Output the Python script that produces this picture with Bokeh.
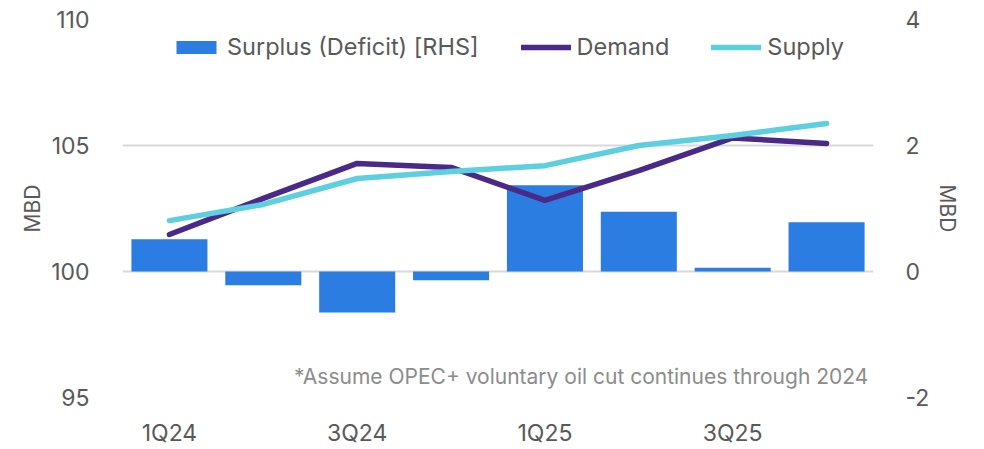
from bokeh.plotting import figure
from bokeh.models import Range1d, LinearAxis, FixedTicker, Label, Legend, LegendItem, ColumnDataSource
from bokeh.embed import file_html
from bokeh.resources import INLINE

quarters = ["1Q24", "2Q24", "3Q24", "4Q24", "1Q25", "2Q25", "3Q25", "4Q25"]
surplus = [0.51, -0.22, -0.65, -0.14, 1.37, 0.95, 0.06, 0.78]
demand = [101.47, 102.9, 104.29, 104.13, 102.82, 104.0, 105.3, 105.08]
supply = [102.02, 102.66, 103.69, 103.97, 104.2, 105.0, 105.4, 105.87]
left_ticks = [95, 100, 105, 110]
right_ticks = [-2, 0, 2, 4]
shown_labels = ["1Q24", "3Q24", "1Q25", "3Q25"]
footnote = "*Assume OPEC+ voluntary oil cut continues through 2024"

FONT = "Inter"
TXT = "#595959"
BAR = "#2B7DE1"
DEM = "#4A2A88"
SUP = "#5DCFDF"

xs = list(range(len(quarters)))
src = ColumnDataSource(dict(x=xs, q=quarters, surplus=surplus, demand=demand, supply=supply))

p = figure(width=984, height=449, output_backend="svg", toolbar_location=None,
           x_range=Range1d(-0.5, len(quarters) - 0.5), y_range=Range1d(95, 110),
           min_border_left=122, min_border_right=111, min_border_top=19, min_border_bottom=52)
p.outline_line_color = None
p.background_fill_color = "white"
p.border_fill_color = "white"
p.extra_y_ranges = {"rhs": Range1d(-2, 4)}

bars = p.vbar(x="x", top="surplus", bottom=0, width=0.81, y_range_name="rhs",
              fill_color=BAR, line_color=None, source=src)
l_dem = p.line(x="x", y="demand", line_color=DEM, line_width=5.5, line_cap="round",
               line_join="round", source=src)
l_sup = p.line(x="x", y="supply", line_color=SUP, line_width=5.5, line_cap="round",
               line_join="round", source=src)

# axes
p.xaxis.ticker = FixedTicker(ticks=[quarters.index(q) for q in shown_labels])
p.xaxis.major_label_overrides = {quarters.index(q): q for q in shown_labels}
p.xaxis.axis_line_color = None
p.xaxis.major_tick_line_color = None
p.xaxis.minor_tick_line_color = None
p.xaxis.major_label_text_font = FONT
p.xaxis.major_label_text_font_size = "23px"
p.xaxis.major_label_text_color = TXT
p.xaxis.major_label_standoff = 15
p.xgrid.grid_line_color = None

p.yaxis.ticker = FixedTicker(ticks=left_ticks)
p.yaxis.axis_line_color = None
p.yaxis.major_tick_line_color = None
p.yaxis.minor_tick_line_color = None
p.yaxis.major_label_text_font = FONT
p.yaxis.major_label_text_font_size = "23px"
p.yaxis.major_label_text_color = TXT
p.yaxis.major_label_standoff = 27
p.yaxis.axis_label = "MBD"
p.yaxis.axis_label_text_font = FONT
p.yaxis.axis_label_text_font_size = "21px"
p.yaxis.axis_label_text_font_style = "normal"
p.yaxis.axis_label_text_color = TXT
p.yaxis.axis_label_standoff = 3
p.ygrid.ticker = FixedTicker(ticks=left_ticks)
p.ygrid.grid_line_color = "#D9D9D9"
p.ygrid.grid_line_width = 2

raxis = LinearAxis(y_range_name="rhs", ticker=FixedTicker(ticks=right_ticks),
                   axis_label="MBD")
raxis.major_label_overrides = {t: str(t) for t in right_ticks}
raxis.axis_line_color = None
raxis.major_tick_line_color = None
raxis.minor_tick_line_color = None
raxis.major_label_text_font = FONT
raxis.major_label_text_font_size = "23px"
raxis.major_label_text_color = TXT
raxis.major_label_standoff = 26
raxis.axis_label_text_font = FONT
raxis.axis_label_text_font_size = "21px"
raxis.axis_label_text_font_style = "normal"
raxis.axis_label_text_color = TXT
raxis.axis_label_standoff = 3
p.add_layout(raxis, "right")

legend = Legend(items=[
    LegendItem(label="Surplus (Deficit) [RHS]", renderers=[bars]),
    LegendItem(label="Demand", renderers=[l_dem]),
    LegendItem(label="Supply", renderers=[l_sup]),
], orientation="horizontal", location=(49, 336))
legend.border_line_color = None
legend.background_fill_alpha = 0
legend.label_text_font = FONT
legend.label_text_font_size = "23.5px"
legend.label_text_color = TXT
legend.glyph_width = 50
legend.glyph_height = 16
legend.label_standoff = 6
legend.spacing = 42
legend.padding = 0
legend.margin = 0
legend.label_height = 20
p.add_layout(legend, "center")

p.add_layout(Label(x=len(quarters) - 0.555, y=95.35, text=footnote, text_align="right",
                   text_baseline="bottom", text_font=FONT, text_font_size="21px",
                   text_color="#8C8C8C"))

open("out.html", "w").write(file_html(p, INLINE))
